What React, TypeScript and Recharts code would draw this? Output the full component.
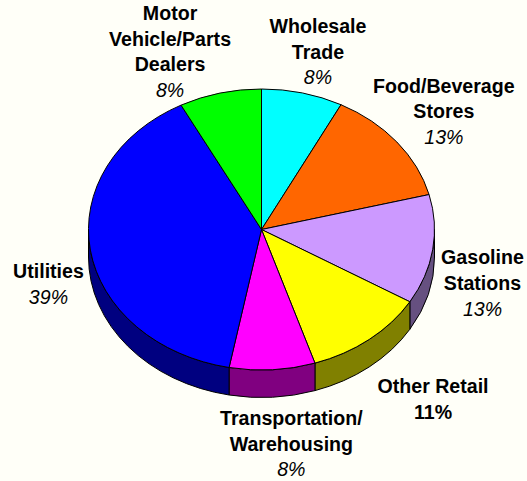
import React from "react";
import { PieChart, Pie } from "recharts";

const categories = ["Wholesale Trade", "Food/Beverage Stores", "Gasoline Stations", "Other Retail", "Transportation/Warehousing", "Utilities", "Motor Vehicle/Parts Dealers"];
const shares = [7.6, 13.4, 12.6, 11.4, 8, 39.3, 7.7];
const topColors = ["#00FFFF", "#FF6600", "#CC99FF", "#FFFF00", "#FF00FF", "#0000FF", "#00FF00"];
const sideColors = ["#008080", "#803300", "#665080", "#808000", "#800080", "#000080", "#008000"];
const labelLines = [["Wholesale", "Trade"], ["Food/Beverage", "Stores"], ["Gasoline", "Stations"], ["Other Retail"], ["Transportation/", "Warehousing"], ["Utilities"], ["Motor", "Vehicle/Parts", "Dealers"]];
const boldShare = [false, false, false, true, false, false, false];
const labelShiftX = [15.6, 47, 49.8, 63.8, 19, -41.9, -50];
const labelShiftY = [-60, -49.3, 14.5, 53.5, 55.3, 27.8, -73];

const tableData = categories.map((name, i) => ({ name, value: shares[i], fill: topColors[i], side: sideColors[i], index: i }));

const TILT = 140.5 / 173;
const DEPTH = 27.5;
const LINE = 25.7;
const FONT = "'Liberation Sans', Arial, sans-serif";
const rad = (d: number) => (d * Math.PI) / 180;

function Sector3D(props: any) {
  const { cx, cy, outerRadius: r, startAngle, endAngle, fill } = props;
  const rx = r;
  const ry = r * TILT;
  const p = (clock: number, dy = 0) => `${cx + rx * Math.sin(rad(clock))} ${cy - ry * Math.cos(rad(clock)) + dy}`;
  const t1 = 90 - startAngle;
  const t2 = 90 - endAngle;
  const large = t2 - t1 > 180 ? 1 : 0;
  const top = `M${cx} ${cy} L${p(t1)} A${rx} ${ry} 0 ${large} 1 ${p(t2)} Z`;
  const w1 = Math.max(t1, 90);
  const w2 = Math.min(t2, 270);
  const side = props.side ?? props.payload?.side;
  return (
    <g>
      {w2 > w1 && (
        <path
          d={`M${p(w1)} A${rx} ${ry} 0 0 1 ${p(w2)} L${p(w2, DEPTH)} A${rx} ${ry} 0 0 0 ${p(w1, DEPTH)} Z`}
          fill={side}
          stroke="#000"
          strokeWidth={1}
        />
      )}
      <path d={top} fill={fill} stroke="#000" strokeWidth={1} />
    </g>
  );
}

function SliceLabel(props: any) {
  const { cx, cy, outerRadius: r, midAngle, index } = props;
  const x = cx + r * Math.cos(rad(midAngle)) + labelShiftX[index];
  const y = cy - r * TILT * Math.sin(rad(midAngle)) + labelShiftY[index];
  const lines = labelLines[index];
  return (
    <text textAnchor="middle" fontFamily={FONT} fontSize={19.6} fill="#000">
      {lines.map((l, i) => (
        <tspan key={l} x={x} y={y + i * LINE} fontWeight="bold">
          {l}
        </tspan>
      ))}
      <tspan
        x={x}
        y={y + lines.length * LINE}
        fontWeight={boldShare[index] ? "bold" : "normal"}
        fontStyle={boldShare[index] ? "normal" : "italic"}
      >
        {Math.round(shares[index])}%
      </tspan>
    </text>
  );
}

export default function App() {
  return (
    <div style={{ position: "absolute", left: 0, top: 0, width: 527, height: 481, background: "#FFFFF8", overflow: "hidden" }}>
      <PieChart width={527} height={481} margin={{ top: 0, right: 0, bottom: 0, left: 0 }}>
        <Pie
          data={tableData}
          dataKey="value"
          nameKey="name"
          cx={261.5}
          cy={229.5}
          innerRadius={0}
          outerRadius={173}
          startAngle={90}
          endAngle={-270}
          paddingAngle={0}
          isAnimationActive={false}
          shape={Sector3D}
          label={SliceLabel}
          labelLine={false}
        />
      </PieChart>
    </div>
  );
}
